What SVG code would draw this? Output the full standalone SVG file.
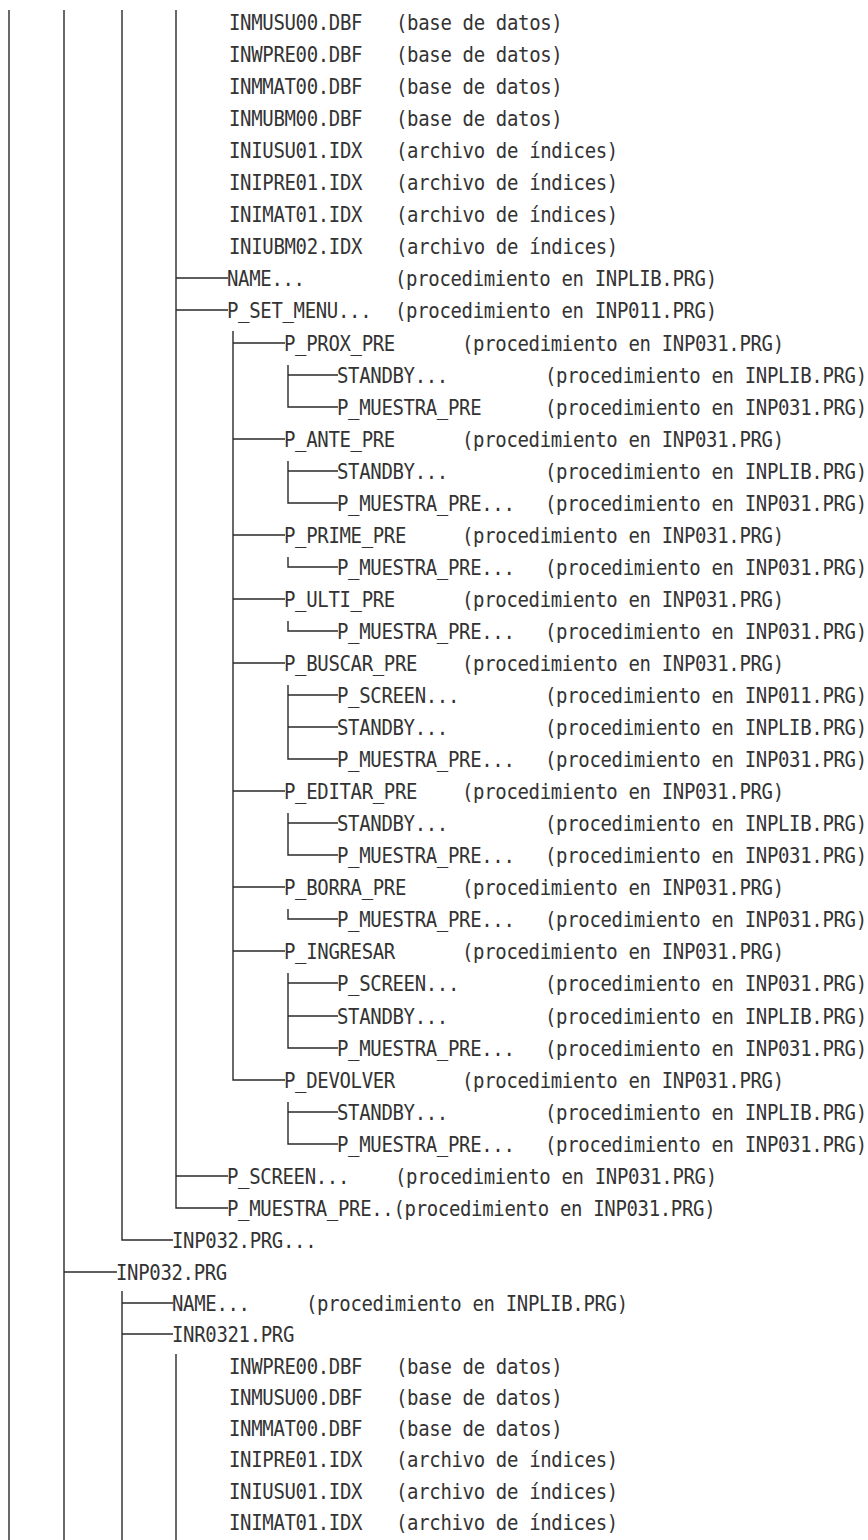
<svg xmlns="http://www.w3.org/2000/svg" width="868" height="1540" viewBox="0 0 868 1540">
<style>
.t{font-family:"DejaVu Sans Mono","Liberation Mono",monospace;font-size:19px;letter-spacing:-0.34px;fill:#333}
.c path{stroke:#2a2a2a;stroke-width:1.4;fill:none}
</style>
<rect width="868" height="1540" fill="#fff"/>
<g class="c" id="connectors">
<path d="M9 10V1540M64 10V1540"/>
<path d="M122 10V1240H173"/>
<path d="M176 10V1208H228M176 278H228M176 310H228M176 1176H228"/>
<path d="M233 331V1080H285M233 343H285M233 439H285M233 535H285M233 599H285M233 663H285M233 791H285M233 887H285M233 951H285"/>
<path d="M288 365V407H338M288 375H338"/>
<path d="M288 461V503H338M288 471H338"/>
<path d="M288 557V567H338"/>
<path d="M288 621V631H338"/>
<path d="M288 685V759H338M288 695H338M288 727H338"/>
<path d="M288 813V855H338M288 823H338"/>
<path d="M288 909V919H338"/>
<path d="M288 973V1048H338M288 983H338M288 1016H338"/>
<path d="M288 1102V1144H338M288 1112H338"/>
<path d="M64 1272H117"/>
<path d="M122 1291V1540M122 1303H173M122 1334H173"/>
<path d="M176 1354V1540"/>
</g>
<g class="t" transform="scale(1 1.1)">
<g id="r01"><text x="229" y="26.91">INMUSU00.DBF</text><text x="396" y="26.91">(base de datos)</text></g>
<g id="r02"><text x="229" y="56">INWPRE00.DBF</text><text x="396" y="56">(base de datos)</text></g>
<g id="r03"><text x="229" y="85.09">INMMAT00.DBF</text><text x="396" y="85.09">(base de datos)</text></g>
<g id="r04"><text x="229" y="114.18">INMUBM00.DBF</text><text x="396" y="114.18">(base de datos)</text></g>
<g id="r05"><text x="229" y="143.27">INIUSU01.IDX</text><text x="396" y="143.27">(archivo de índices)</text></g>
<g id="r06"><text x="229" y="172.36">INIPRE01.IDX</text><text x="396" y="172.36">(archivo de índices)</text></g>
<g id="r07"><text x="229" y="201.45">INIMAT01.IDX</text><text x="396" y="201.45">(archivo de índices)</text></g>
<g id="r08"><text x="229" y="230.55">INIUBM02.IDX</text><text x="396" y="230.55">(archivo de índices)</text></g>
<g id="r09"><text x="227" y="259.64">NAME...</text><text x="395" y="259.64">(procedimiento en INPLIB.PRG)</text></g>
<g id="r10"><text x="227" y="288.73">P_SET_MENU...</text><text x="395" y="288.73">(procedimiento en INP011.PRG)</text></g>
<g id="r11"><text x="284" y="318.73">P_PROX_PRE</text><text x="462" y="318.73">(procedimiento en INP031.PRG)</text></g>
<g id="r12"><text x="337" y="347.82">STANDBY...</text><text x="545" y="347.82">(procedimiento en INPLIB.PRG)</text></g>
<g id="r13"><text x="337" y="376.91">P_MUESTRA_PRE</text><text x="545" y="376.91">(procedimiento en INP031.PRG)</text></g>
<g id="r14"><text x="284" y="406">P_ANTE_PRE</text><text x="462" y="406">(procedimiento en INP031.PRG)</text></g>
<g id="r15"><text x="337" y="435.09">STANDBY...</text><text x="545" y="435.09">(procedimiento en INPLIB.PRG)</text></g>
<g id="r16"><text x="337" y="464.18">P_MUESTRA_PRE...</text><text x="545" y="464.18">(procedimiento en INP031.PRG)</text></g>
<g id="r17"><text x="284" y="493.27">P_PRIME_PRE</text><text x="462" y="493.27">(procedimiento en INP031.PRG)</text></g>
<g id="r18"><text x="337" y="522.36">P_MUESTRA_PRE...</text><text x="545" y="522.36">(procedimiento en INP031.PRG)</text></g>
<g id="r19"><text x="284" y="551.45">P_ULTI_PRE</text><text x="462" y="551.45">(procedimiento en INP031.PRG)</text></g>
<g id="r20"><text x="337" y="580.55">P_MUESTRA_PRE...</text><text x="545" y="580.55">(procedimiento en INP031.PRG)</text></g>
<g id="r21"><text x="284" y="609.64">P_BUSCAR_PRE</text><text x="462" y="609.64">(procedimiento en INP031.PRG)</text></g>
<g id="r22"><text x="337" y="638.73">P_SCREEN...</text><text x="545" y="638.73">(procedimiento en INP011.PRG)</text></g>
<g id="r23"><text x="337" y="667.82">STANDBY...</text><text x="545" y="667.82">(procedimiento en INPLIB.PRG)</text></g>
<g id="r24"><text x="337" y="696.91">P_MUESTRA_PRE...</text><text x="545" y="696.91">(procedimiento en INP031.PRG)</text></g>
<g id="r25"><text x="284" y="726">P_EDITAR_PRE</text><text x="462" y="726">(procedimiento en INP031.PRG)</text></g>
<g id="r26"><text x="337" y="755.09">STANDBY...</text><text x="545" y="755.09">(procedimiento en INPLIB.PRG)</text></g>
<g id="r27"><text x="337" y="784.18">P_MUESTRA_PRE...</text><text x="545" y="784.18">(procedimiento en INP031.PRG)</text></g>
<g id="r28"><text x="284" y="813.27">P_BORRA_PRE</text><text x="462" y="813.27">(procedimiento en INP031.PRG)</text></g>
<g id="r29"><text x="337" y="842.36">P_MUESTRA_PRE...</text><text x="545" y="842.36">(procedimiento en INP031.PRG)</text></g>
<g id="r30"><text x="284" y="871.45">P_INGRESAR</text><text x="462" y="871.45">(procedimiento en INP031.PRG)</text></g>
<g id="r31"><text x="337" y="900.55">P_SCREEN...</text><text x="545" y="900.55">(procedimiento en INP031.PRG)</text></g>
<g id="r32"><text x="337" y="930.55">STANDBY...</text><text x="545" y="930.55">(procedimiento en INPLIB.PRG)</text></g>
<g id="r33"><text x="337" y="959.64">P_MUESTRA_PRE...</text><text x="545" y="959.64">(procedimiento en INP031.PRG)</text></g>
<g id="r34"><text x="284" y="988.73">P_DEVOLVER</text><text x="462" y="988.73">(procedimiento en INP031.PRG)</text></g>
<g id="r35"><text x="337" y="1017.82">STANDBY...</text><text x="545" y="1017.82">(procedimiento en INPLIB.PRG)</text></g>
<g id="r36"><text x="337" y="1046.91">P_MUESTRA_PRE...</text><text x="545" y="1046.91">(procedimiento en INP031.PRG)</text></g>
<g id="r37"><text x="227" y="1076">P_SCREEN...</text><text x="395" y="1076">(procedimiento en INP031.PRG)</text></g>
<g id="r38"><text x="227" y="1105.09">P_MUESTRA_PRE..(procedimiento en INP031.PRG)</text></g>
<g id="r39"><text x="172" y="1134.18">INP032.PRG...</text></g>
<g id="r40"><text x="116" y="1163.27">INP032.PRG</text></g>
<g id="r41"><text x="172" y="1191.45">NAME...</text><text x="306" y="1191.45">(procedimiento en INPLIB.PRG)</text></g>
<g id="r42"><text x="172" y="1219.64">INR0321.PRG</text></g>
<g id="r43"><text x="229" y="1248.73">INWPRE00.DBF</text><text x="396" y="1248.73">(base de datos)</text></g>
<g id="r44"><text x="229" y="1276.91">INMUSU00.DBF</text><text x="396" y="1276.91">(base de datos)</text></g>
<g id="r45"><text x="229" y="1305.09">INMMAT00.DBF</text><text x="396" y="1305.09">(base de datos)</text></g>
<g id="r46"><text x="229" y="1333.27">INIPRE01.IDX</text><text x="396" y="1333.27">(archivo de índices)</text></g>
<g id="r47"><text x="229" y="1362.36">INIUSU01.IDX</text><text x="396" y="1362.36">(archivo de índices)</text></g>
<g id="r48"><text x="229" y="1390.55">INIMAT01.IDX</text><text x="396" y="1390.55">(archivo de índices)</text></g>
</g>
</svg>
